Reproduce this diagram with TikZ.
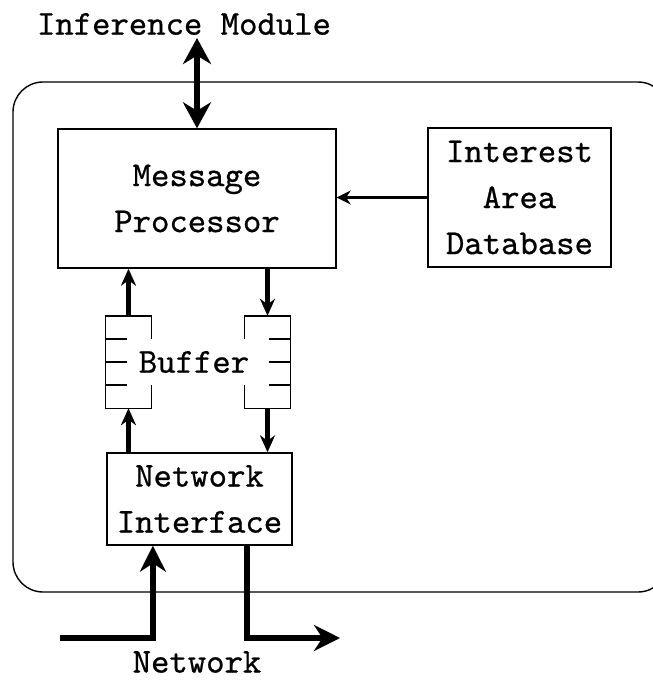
\documentclass[tikz,border=0pt]{standalone}
\usepackage{fontspec}
\usetikzlibrary{arrows.meta, positioning, calc}
\newfontfamily\monoface{lmmono10-regular.otf}[FakeBold=0.7]
\newcommand{\diafont}{\fontsize{35}{46}\selectfont\monoface}

\begin{document}
\begin{tikzpicture}[x=1pt, y=-1pt,
    box/.style={draw, line width=1.4pt, inner sep=0pt, align=center, font=\diafont},
    bufslot/.style={inner sep=0pt, minimum width=46pt, minimum height=92pt},
    flow/.style={line width=4.5pt, -{Stealth[length=17pt, width=15pt]}},
    wire/.style={line width=6pt, -{Stealth[length=26pt, width=26pt]}}]
    \useasboundingbox (0,0) rectangle (653,681);

    % Outer frame of the node
    \draw[line width=1.4pt, rounded corners=30pt] (13,82) rectangle (668,592);

    % Blocks
    \node[box, minimum width=278pt, minimum height=139pt] (proc) at (197,198.5) {Message\\Processor};
    \node[box, minimum width=183pt, minimum height=139pt] (area) at (519.5,197.5) {Interest\\Area\\Database};
    \node[box, minimum width=185pt, minimum height=92pt] (nif) at (199.5,499) {Network\\Interface};

    % Buffers
    \node[bufslot] (lbuf) at (128.5,362) {};
    \node[bufslot] (rbuf) at (267.5,362) {};
    \node[font=\diafont] (buftxt) at (194,362) {Buffer};
    \draw[line width=1.4pt] ($(lbuf.north east)+(0,23)$) -- (lbuf.north east) -- (lbuf.north west)
        -- (lbuf.south west) -- (lbuf.south east) -- ++(0,-23);
    \draw[line width=1.4pt] ($(rbuf.north west)+(0,23)$) -- (rbuf.north west) -- (rbuf.north east)
        -- (rbuf.south east) -- (rbuf.south west) -- ++(0,-23);
    \foreach \dy in {-23,0,23} {
        \draw[line width=1.4pt] ($(lbuf.west)+(0,\dy)$) -- ++(22,0);
        \draw[line width=1.4pt] ($(rbuf.east)+(0,\dy)$) -- ++(-22,0);
    }

    % Labels outside
    \node[font=\diafont] (imod) at (184,24) {Inference Module};
    \node[font=\diafont] (net) at (197,662) {Network};
    \coordinate (modtip) at (197,38);
    \coordinate (netin) at (60,638);
    \coordinate (netout) at (340,638);

    % Arrows
    \draw[wire, {Stealth[length=26pt, width=28pt]}-{Stealth[length=26pt, width=28pt]}] (modtip) -- (modtip |- proc.north);
    \draw[line width=3pt, -{Stealth[length=14pt, width=14pt]}] (area.west) -- (area.west -| proc.east);
    \draw[flow] (lbuf.north) -- (lbuf.north |- proc.south);
    \draw[flow] (lbuf.south |- nif.north) -- (lbuf.south);
    \draw[flow] (rbuf.north |- proc.south) -- (rbuf.north);
    \draw[flow] (rbuf.south) -- (rbuf.south |- nif.north);
    \draw[wire] (netin) -| ($(nif.south west)!0.25!(nif.south east)$);
    \draw[wire] ($(nif.south west)!0.755!(nif.south east)$) |- (netout);
\end{tikzpicture}
\end{document}
